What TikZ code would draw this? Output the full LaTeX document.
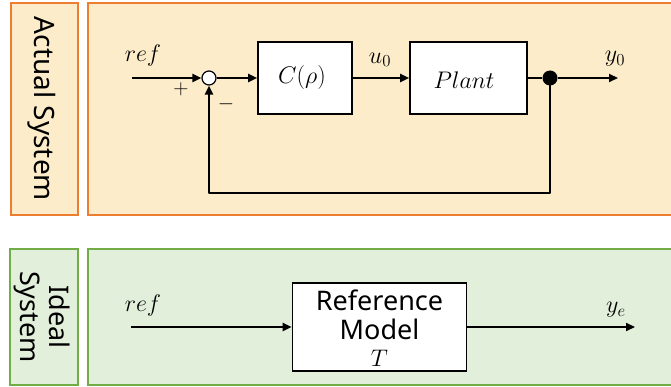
\RequirePackage{fix-cm}
\documentclass[tikz,border=0pt]{standalone}
\usepackage{fontspec}
\setsansfont{Noto Sans}
\usetikzlibrary{arrows.meta}
\definecolor{ostroke}{HTML}{ED7D31}
\definecolor{ofill}{HTML}{FCECC9}
\definecolor{gstroke}{HTML}{70AD47}
\definecolor{gfill}{HTML}{E2EFDA}
\begin{document}
\begin{tikzpicture}[x=1pt,y=-1pt,
  obox/.style={draw=ostroke,fill=ofill,line width=2.6pt},
  gbox/.style={draw=gstroke,fill=gfill,line width=2.2pt},
  blk/.style={draw=black,fill=white,line width=1.6pt,inner sep=0pt},
  sig/.style={line width=2pt,-{Triangle[length=9pt,width=8pt]}},
  wire/.style={line width=2pt},
  mlab/.style={font=\fontsize{24}{28}\selectfont,inner sep=0pt},
  slab/.style={font=\sffamily\fontsize{27}{29}\selectfont}]
\useasboundingbox (0,0) rectangle (671,387);
% panels
\draw[obox] (11,3) rectangle (78,215);
\draw[obox] (88,3) rectangle (675,215);
\draw[gbox] (10,249) rectangle (78,385);
\draw[gbox] (88,249) rectangle (675,385);
\node[slab,rotate=-90,font=\sffamily\fontsize{28}{30}\selectfont] (lblA) at (42,109) {Actual System};
\node[slab,rotate=-90,align=center] (lblI) at (42,317) {Ideal\\System};
% actual system
\coordinate (in1) at (132,78);
\node[circle,draw=black,fill=white,line width=1.2pt,minimum size=14pt,inner sep=0pt] (sum) at (209,78) {};
\node[blk,minimum width=94pt,minimum height=72pt] (C) at (305,78) {};
\node[mlab] (Ct) at (302,78) {$C(\rho)$};
\node[blk,minimum width=117pt,minimum height=72pt] (P) at (468.5,78) {};
\node[mlab] (Pt) at (464,80) {$Plant$};
\node[circle,fill=black,minimum size=15pt,inner sep=0pt] (dot) at (550,78) {};
\coordinate (out1) at (618,78);
\coordinate (fbR) at (550,193);
\coordinate (fbL) at (209,193);
\draw[sig] (in1) -- (sum);
\draw[sig] (sum) -- (C);
\draw[sig] (C) -- (P);
\draw[wire] (P) -- (dot);
\draw[sig] (dot) -- (out1);
\draw[wire,line join=round] (dot.center) -- (fbR) -- (fbL) -- ++(0,-0.1);
\draw[sig] (fbL) -- (sum.south);
\node[mlab] (ref1) at (143,56) {$ref$};
\node[font=\fontsize{21}{24}\selectfont] (plus) at (181,89) {$+$};
\node[font=\fontsize{21}{24}\selectfont] (minus) at (226,104) {$-$};
\node[mlab] (u0) at (380,60) {$u_0$};
\node[mlab] (y0) at (615,59) {$y_0$};
% ideal system
\coordinate (in2) at (131,327);
\node[blk,minimum width=174pt,minimum height=88pt] (R) at (379.5,327) {};
\node[slab,align=center] (Rt) at (379.5,315) {Reference\\Model};
\node[mlab] (T) at (379.5,358) {$T$};
\coordinate (out2) at (635,327);
\draw[sig] (in2) -- (R);
\draw[sig] (R) -- (out2);
\node[mlab] (ref2) at (143,305) {$ref$};
\node[mlab] (ye) at (616,310) {$y_e$};
\end{tikzpicture}
\end{document}
